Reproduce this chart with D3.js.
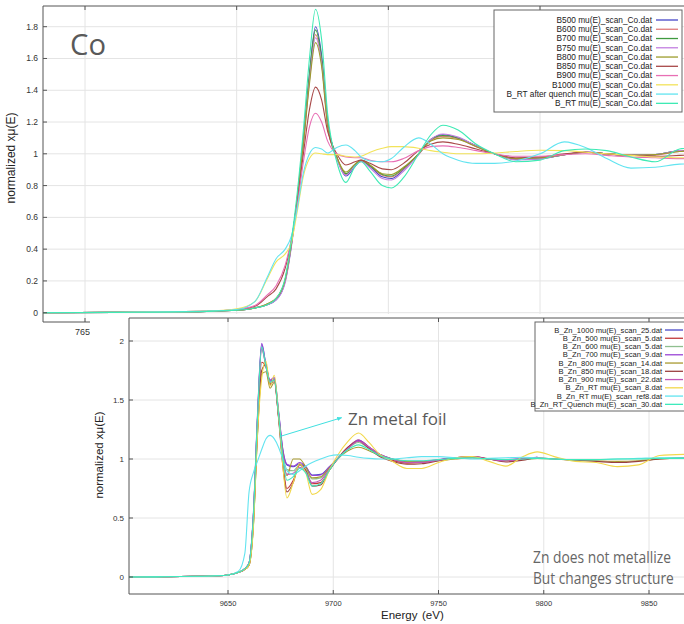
<!DOCTYPE html>
<html><head><meta charset="utf-8">
<script src="https://cdn.jsdelivr.net/npm/d3@7"></script>
<style>body{margin:0;background:#fff} svg{display:block}</style>
</head><body>
<svg id="c" width="684" height="624"></svg>
<script>
// ---------------- DATA : Co K-edge (top panel) ----------------
const coEnergy = [7636,7660,7690,7700,7706,7710,7713,7716,7718,7720,7722,7724,7726,7728,7730,7733,7736,7739,7741,7744,7748,7751,7755,7760,7764,7768,7773,7779,7785,7792,7800,7808,7815,7822,7830,7838,7846,7858];
const coB500  = [0,0.002,0.008,0.015,0.03,0.05,0.08,0.2,0.42,0.72,1.08,1.5,1.8,1.62,1.2,0.98,0.86,0.92,0.955,0.92,0.855,0.845,0.9,1.0,1.09,1.12,1.1,1.05,1.0,0.965,0.97,0.995,1.01,1.0,0.99,0.995,1.02,1.03];
const coB600  = [0,0.002,0.008,0.015,0.03,0.055,0.09,0.21,0.43,0.72,1.07,1.47,1.75,1.58,1.18,0.98,0.87,0.93,0.958,0.925,0.865,0.855,0.905,1.0,1.085,1.11,1.095,1.045,1.0,0.968,0.972,0.995,1.01,1.0,0.99,0.993,1.015,1.025];
const coB700  = [0,0.002,0.008,0.015,0.03,0.05,0.085,0.2,0.42,0.73,1.09,1.5,1.78,1.6,1.2,0.98,0.875,0.93,0.958,0.925,0.87,0.86,0.91,1.0,1.09,1.115,1.1,1.05,1.0,0.966,0.97,0.995,1.01,1.0,0.99,0.995,1.02,1.03];
const coB750  = [0,0.002,0.008,0.015,0.03,0.05,0.08,0.19,0.41,0.71,1.06,1.46,1.73,1.57,1.18,0.97,0.865,0.925,0.952,0.91,0.845,0.835,0.89,0.995,1.09,1.125,1.105,1.05,1.0,0.962,0.968,0.995,1.012,1.0,0.99,0.995,1.02,1.03];
const coB800  = [0,0.002,0.008,0.015,0.03,0.055,0.09,0.21,0.43,0.72,1.06,1.44,1.7,1.55,1.17,0.98,0.885,0.935,0.96,0.93,0.875,0.87,0.915,1.0,1.08,1.1,1.09,1.045,1.0,0.97,0.975,0.995,1.01,1.0,0.99,0.995,1.015,1.025];
const coB850  = [0,0.003,0.01,0.02,0.04,0.1,0.15,0.28,0.45,0.7,1.0,1.28,1.42,1.34,1.14,1.0,0.93,0.95,0.96,0.94,0.905,0.9,0.94,1.02,1.06,1.075,1.06,1.03,1.0,0.975,0.98,1.0,1.01,1.0,0.99,0.985,0.99,1.0];
const coB900  = [0,0.003,0.01,0.02,0.045,0.11,0.17,0.3,0.46,0.68,0.95,1.17,1.255,1.2,1.08,1.0,0.98,0.975,0.975,0.96,0.95,0.95,0.97,1.02,1.045,1.05,1.04,1.02,1.0,0.985,0.985,0.995,1.0,0.99,0.98,0.975,0.97,0.97];
const coB1000 = [0,0.003,0.01,0.025,0.07,0.21,0.32,0.37,0.44,0.64,0.86,0.97,1.005,1.0,0.995,0.995,0.985,0.98,0.985,1.01,1.035,1.045,1.045,1.035,1.02,1.01,1.0,1.0,1.005,1.015,1.022,1.02,1.01,1.0,0.99,0.98,0.975,0.975];
const coRTq   = [0,0.003,0.01,0.02,0.07,0.22,0.34,0.4,0.48,0.66,0.88,1.0,1.04,1.03,1.005,1.04,1.055,1.02,0.98,0.955,0.95,0.97,1.04,1.1,1.06,1.0,0.96,0.94,0.94,0.955,1.0,1.075,1.04,0.97,0.91,0.915,0.935,0.94];
const coRT    = [0,0.002,0.008,0.015,0.03,0.05,0.09,0.22,0.45,0.76,1.15,1.6,1.91,1.72,1.25,0.95,0.82,0.92,0.95,0.89,0.8,0.785,0.85,1.0,1.12,1.18,1.15,1.06,1.0,0.95,0.96,1.02,1.03,1.02,0.98,0.95,1.03,1.05];
const coNames = ["B500 mu(E)_scan_Co.dat","B600 mu(E)_scan_Co.dat","B700 mu(E)_scan_Co.dat","B750 mu(E)_scan_Co.dat","B800 mu(E)_scan_Co.dat","B850 mu(E)_scan_Co.dat","B900 mu(E)_scan_Co.dat","B1000 mu(E)_scan_Co.dat","B_RT after quench mu(E)_scan_Co.dat","B_RT mu(E)_scan_Co.dat"];
const coColors = ["#4646c8","#e07a7a","#3f9a3f","#c27ee0","#9c9c2c","#a84848","#e86fb4","#f2e35a","#62e4f0","#3eeab4"];
const coYTicks = [0,0.2,0.4,0.6,0.8,1,1.2,1.4,1.6,1.8];
const coXTicks = [7650,7700,7750,7800];

// ---------------- DATA : Zn K-edge (bottom panel) ----------------
const znEnergy = [9603,9620,9635,9645,9650,9655,9658,9660,9662,9664,9666,9668,9670,9672,9674,9676,9678,9681,9684,9687,9690,9694,9698,9702,9707,9712,9717,9722,9728,9735,9742,9750,9758,9766,9774,9782,9790,9797,9805,9815,9825,9835,9845,9855,9868];
const N = null;
const zn1000 = [0,0.002,0.006,0.01,0.017,0.04,0.07,0.12,0.5,1.35,1.97,1.8,1.66,1.68,1.4,1.08,0.95,0.935,0.96,0.93,0.865,0.87,0.93,1.0,1.09,1.155,1.1,1.04,1.0,0.975,0.975,0.99,1.01,1.015,1.0,0.99,1.0,1.01,N,N,N,N,N,N,N];
const zn500  = [0,0.002,0.006,0.01,0.017,0.04,0.065,0.11,0.45,1.25,1.82,1.78,1.64,1.67,1.36,0.98,0.75,0.82,0.95,0.9,0.79,0.8,0.9,1.0,1.1,1.16,1.1,1.03,0.99,0.965,0.97,0.99,1.01,1.02,1.0,0.985,1.0,1.015,N,N,N,N,N,N,N];
const zn600  = [0,0.002,0.006,0.01,0.017,0.04,0.07,0.12,0.5,1.33,1.94,1.79,1.65,1.67,1.39,1.06,0.91,0.9,0.95,0.91,0.83,0.84,0.92,1.0,1.09,1.14,1.09,1.04,1.0,0.975,0.975,0.99,1.01,1.015,1.0,0.99,1.0,1.01,N,N,N,N,N,N,N];
const zn700  = [0,0.002,0.006,0.01,0.017,0.04,0.07,0.12,0.52,1.37,1.98,1.8,1.67,1.69,1.41,1.09,0.955,0.94,0.97,0.935,0.86,0.865,0.93,1.0,1.09,1.16,1.1,1.04,1.0,0.98,0.98,0.995,1.01,1.01,1.0,0.995,1.005,1.015,N,N,N,N,N,N,N];
const zn800  = [0,0.002,0.006,0.01,0.017,0.04,0.065,0.1,0.42,1.2,1.72,1.74,1.6,1.65,1.36,1.05,0.86,1.0,1.0,0.93,0.84,0.85,0.92,1.0,1.07,1.1,1.07,1.03,1.0,0.98,0.975,0.985,1.0,1.01,1.0,0.985,0.995,1.005,1.0,0.99,0.985,0.98,0.985,1.0,1.01];
const zn850  = [0,0.002,0.006,0.01,0.017,0.04,0.065,0.1,0.42,1.22,1.75,1.8,1.63,1.67,1.35,0.95,0.72,0.8,0.955,0.9,0.77,0.78,0.9,1.0,1.1,1.15,1.09,1.02,0.98,0.955,0.96,0.985,1.01,1.02,1.0,0.975,0.99,1.01,1.0,0.99,0.98,0.97,0.98,1.0,1.01];
const zn900  = [0,0.002,0.006,0.01,0.017,0.04,0.07,0.12,0.5,1.33,1.93,1.79,1.65,1.67,1.38,1.03,0.87,0.88,0.93,0.89,0.8,0.82,0.91,1.0,1.09,1.15,1.1,1.04,1.0,0.97,0.97,0.99,1.01,1.02,1.0,0.985,1.0,1.015,N,N,N,N,N,N,N];
const znRT8  = [0,0.002,0.006,0.01,0.017,0.04,0.065,0.1,0.4,1.2,1.68,1.83,1.62,1.71,1.38,0.95,0.67,0.8,0.96,0.88,0.7,0.74,0.9,1.03,1.15,1.22,1.14,1.04,0.98,0.92,0.92,0.97,1.01,1.02,0.98,0.94,1.02,1.06,1.02,0.98,0.97,0.935,0.95,1.03,1.04];
const znRef8 = [0,0.002,0.006,0.01,0.017,0.05,0.2,0.72,0.88,0.98,1.08,1.17,1.2,1.17,1.1,1.0,0.9,0.87,0.9,0.94,0.97,1.0,1.025,1.035,1.03,1.015,1.005,1.0,1.0,1.01,1.02,1.02,1.01,1.0,1.005,1.01,1.015,1.01,1.0,0.995,0.995,1.0,1.005,1.01,1.01];
const znQ30  = [0,0.002,0.006,0.01,0.017,0.04,0.07,0.12,0.5,1.34,1.95,1.79,1.65,1.67,1.38,1.02,0.82,0.85,0.92,0.88,0.77,0.79,0.9,1.0,1.08,1.12,1.08,1.03,1.0,0.985,0.985,0.995,1.005,1.01,1.0,0.995,1.0,1.005,1.0,0.995,0.995,1.0,1.0,1.005,1.005];
const znNames = ["B_Zn_1000 mu(E)_scan_25.dat","B_Zn_500 mu(E)_scan_5.dat","B_Zn_600 mu(E)_scan_5.dat","B_Zn_700 mu(E)_scan_9.dat","B_Zn_800 mu(E)_scan_14.dat","B_Zn_850 mu(E)_scan_18.dat","B_Zn_900 mu(E)_scan_22.dat","B_Zn_RT mu(E)_scan_8.dat","B_Zn_RT mu(E)_scan_ref8.dat","B_Zn_RT_Quench mu(E)_scan_30.dat"];
const znColors = ["#4a4ac8","#c23a3a","#8fbf8f","#9a45d6","#a89a30","#9a3f3f","#c257b8","#f2d84a","#62e4f0","#3eeabc"];
const znYTicks = [0,0.5,1,1.5,2];
const znXTicks = [9650,9700,9750,9800,9850];

// ---------------- DRAW ----------------
const svg = d3.select('#c');
const F = "'Liberation Sans', Arial, sans-serif";
const FT = "'Open Sans', 'Noto Sans', sans-serif";
const gridC = "#e4e4e4", frameC = "#555";

// text squeezed horizontally to a target width (Calibri-like look)
function fitText(g, x, y, size, fill, str, width){
  const t = g.append('text').attr('font-family',FT).attr('font-size',size).attr('fill',fill).text(str);
  const w = t.node().getComputedTextLength() || width;
  const s = Math.min(1, width / w);
  t.attr('transform',`translate(${x},${y}) scale(${s},1)`);
  return t;
}

// ---- top panel (Co)
const T = {l:43, t:6, r:684, b:322};
const xCo = d3.scaleLinear().domain([7650,7800]).range([85,540]);
const yCo = d3.scaleLinear().domain([0,1.8]).range([312.7,26.7]);
const defs = svg.append('defs');
defs.append('clipPath').attr('id','clipCo').append('rect').attr('x',T.l).attr('y',T.t).attr('width',T.r-T.l).attr('height',T.b-T.t);
const gCo = svg.append('g');
gCo.selectAll('line.hg').data(coYTicks).join('line').attr('x1',T.l).attr('x2',T.r).attr('y1',d=>yCo(d)).attr('y2',d=>yCo(d)).attr('stroke',gridC);
gCo.selectAll('line.vg').data(coXTicks).join('line').attr('x1',d=>xCo(d)).attr('x2',d=>xCo(d)).attr('y1',T.t).attr('y2',T.b).attr('stroke',gridC);
const coSeries = [coB500,coB600,coB700,coB750,coB800,coB850,coB900,coB1000,coRTq,coRT];
const lineCo = d3.line().x((d,i)=>xCo(coEnergy[i])).y(d=>yCo(d)).curve(d3.curveMonotoneX);
const gCoL = gCo.append('g').attr('clip-path','url(#clipCo)');
coSeries.forEach((s,k)=>gCoL.append('path').attr('d',lineCo(s)).attr('fill','none').attr('stroke',coColors[k]).attr('stroke-width',1.1));
gCo.append('path').attr('d',`M${T.r},${T.t}H${T.l}V${T.b}H${T.r}`).attr('fill','none').attr('stroke',frameC).attr('stroke-width',1);
gCo.selectAll('line.yt').data(coYTicks).join('line').attr('x1',T.l).attr('x2',T.l+4).attr('y1',d=>yCo(d)).attr('y2',d=>yCo(d)).attr('stroke',frameC);
gCo.selectAll('text.yl').data(coYTicks).join('text').attr('x',T.l-5).attr('y',d=>yCo(d)).attr('dy','0.35em').attr('text-anchor','end').attr('font-family',F).attr('font-size',8.5).attr('fill','#333').text(d=>String(d));
gCo.selectAll('line.xt').data(coXTicks).join('line').attr('x1',d=>xCo(d)).attr('x2',d=>xCo(d)).attr('y1',T.b).attr('y2',T.b-4).attr('stroke',frameC);
gCo.selectAll('line.xtt').data(coXTicks).join('line').attr('x1',d=>xCo(d)).attr('x2',d=>xCo(d)).attr('y1',T.t).attr('y2',T.t+4).attr('stroke',frameC);
gCo.selectAll('text.xl').data(coXTicks).join('text').attr('x',d=>xCo(d)).attr('y',335).attr('text-anchor','middle').attr('font-family',F).attr('font-size',9).attr('fill','#333').text(d=>String(d));
gCo.append('text').attr('transform','translate(15,158) rotate(-90)').attr('text-anchor','middle').attr('font-family',F).attr('font-size',12).attr('fill','#222').text('normalized xμ(E)');
fitText(gCo, 70, 55, 30, '#595959', 'Co', 36);
// legend top
const LT = {x:494, y:10, w:188, h:102, rowH:9.26, first:20, textX:652, s1:656, s2:678};
const lgCo = gCo.append('g');
lgCo.append('rect').attr('x',LT.x).attr('y',LT.y).attr('width',LT.w).attr('height',LT.h).attr('fill','#fff').attr('stroke','#666');
coNames.forEach((n,k)=>{
  const yy = LT.first + k*LT.rowH;
  lgCo.append('text').attr('x',LT.textX).attr('y',yy).attr('dy','0.35em').attr('text-anchor','end').attr('font-family',F).attr('font-size',8.3).attr('fill','#222').text(n);
  lgCo.append('line').attr('x1',LT.s1).attr('x2',LT.s2).attr('y1',yy).attr('y2',yy).attr('stroke',coColors[k]).attr('stroke-width',1.3);
});

// ---- bottom panel (Zn), pasted over
const B = {l:129, t:318, r:684, b:594};
svg.append('rect').attr('x',90).attr('y',314).attr('width',594).attr('height',310).attr('fill','#fff');
const xZn = d3.scaleLinear().domain([9650,9850]).range([228,649]);
const yZn = d3.scaleLinear().domain([0,2]).range([577,341]);
defs.append('clipPath').attr('id','clipZn').append('rect').attr('x',B.l).attr('y',B.t).attr('width',B.r-B.l).attr('height',B.b-B.t);
const gZn = svg.append('g');
gZn.selectAll('line.hg').data(znYTicks).join('line').attr('x1',B.l).attr('x2',B.r).attr('y1',d=>yZn(d)).attr('y2',d=>yZn(d)).attr('stroke',gridC);
gZn.selectAll('line.vg').data(znXTicks).join('line').attr('x1',d=>xZn(d)).attr('x2',d=>xZn(d)).attr('y1',B.t).attr('y2',B.b).attr('stroke',gridC);
const znSeries = [zn1000,zn500,zn600,zn700,zn800,zn850,zn900,znRT8,znRef8,znQ30];
const lineZn = d3.line().defined(d=>d!==null).x((d,i)=>xZn(znEnergy[i])).y(d=>yZn(d)).curve(d3.curveMonotoneX);
const gZnL = gZn.append('g').attr('clip-path','url(#clipZn)');
znSeries.forEach((s,k)=>gZnL.append('path').attr('d',lineZn(s)).attr('fill','none').attr('stroke',znColors[k]).attr('stroke-width',1.1));
gZn.append('path').attr('d',`M${B.r},${B.t}H${B.l}V${B.b}H${B.r}`).attr('fill','none').attr('stroke',frameC).attr('stroke-width',1);
gZn.selectAll('line.yt').data(znYTicks).join('line').attr('x1',B.l).attr('x2',B.l+4).attr('y1',d=>yZn(d)).attr('y2',d=>yZn(d)).attr('stroke',frameC);
gZn.selectAll('text.yl').data(znYTicks).join('text').attr('x',B.l-5).attr('y',d=>yZn(d)).attr('dy','0.35em').attr('text-anchor','end').attr('font-family',F).attr('font-size',8).attr('fill','#333').text(d=>String(d));
gZn.selectAll('line.xt').data(znXTicks).join('line').attr('x1',d=>xZn(d)).attr('x2',d=>xZn(d)).attr('y1',B.b).attr('y2',B.b-4).attr('stroke',frameC);
gZn.selectAll('line.xtt').data(znXTicks).join('line').attr('x1',d=>xZn(d)).attr('x2',d=>xZn(d)).attr('y1',B.t).attr('y2',B.t+4).attr('stroke',frameC);
gZn.selectAll('text.xl').data(znXTicks).join('text').attr('x',d=>xZn(d)).attr('y',606).attr('text-anchor','middle').attr('font-family',F).attr('font-size',7.5).attr('fill','#333').text(d=>String(d));
gZn.append('text').attr('x',381).attr('y',619).attr('font-family',F).attr('font-size',11.5).attr('fill','#222').text('Energy');
gZn.append('text').attr('x',422).attr('y',619).attr('font-family',F).attr('font-size',11.5).attr('fill','#222').text('(eV)');
gZn.append('text').attr('transform','translate(103,455) rotate(-90)').attr('text-anchor','middle').attr('font-family',F).attr('font-size',11.5).attr('fill','#222').text('normalized xμ(E)');
// legend bottom
const LB = {x:535, y:322, w:155, h:89, rowH:8.26, first:330, textX:662, s1:665, s2:683};
const lgZn = gZn.append('g');
lgZn.append('rect').attr('x',LB.x).attr('y',LB.y).attr('width',LB.w).attr('height',LB.h).attr('fill','#fff').attr('stroke','#666');
znNames.forEach((n,k)=>{
  const yy = LB.first + k*LB.rowH;
  lgZn.append('text').attr('x',LB.textX).attr('y',yy).attr('dy','0.35em').attr('text-anchor','end').attr('font-family',F).attr('font-size',7.6).attr('fill','#222').text(n);
  lgZn.append('line').attr('x1',LB.s1).attr('x2',LB.s2).attr('y1',yy).attr('y2',yy).attr('stroke',znColors[k]).attr('stroke-width',1.3);
});
// annotations
defs.append('marker').attr('id','arr').attr('viewBox','0 0 10 10').attr('refX',9).attr('refY',5).attr('markerWidth',5).attr('markerHeight',5).attr('orient','auto')
  .append('path').attr('d','M0,1L10,5L0,9z').attr('fill','#40e0e0');
gZn.append('line').attr('x1',xZn(9674.5)).attr('y1',yZn(1.19)).attr('x2',xZn(9704)).attr('y2',yZn(1.35)).attr('stroke','#40e0e0').attr('stroke-width',1).attr('marker-end','url(#arr)');
fitText(gZn, 348, 425, 17, '#595959', 'Zn metal foil', 114);
fitText(gZn, 533, 563, 16.5, '#666', 'Zn does not metallize', 138);
fitText(gZn, 533, 584, 16.5, '#666', 'But changes structure', 141);
</script>
</body></html>
